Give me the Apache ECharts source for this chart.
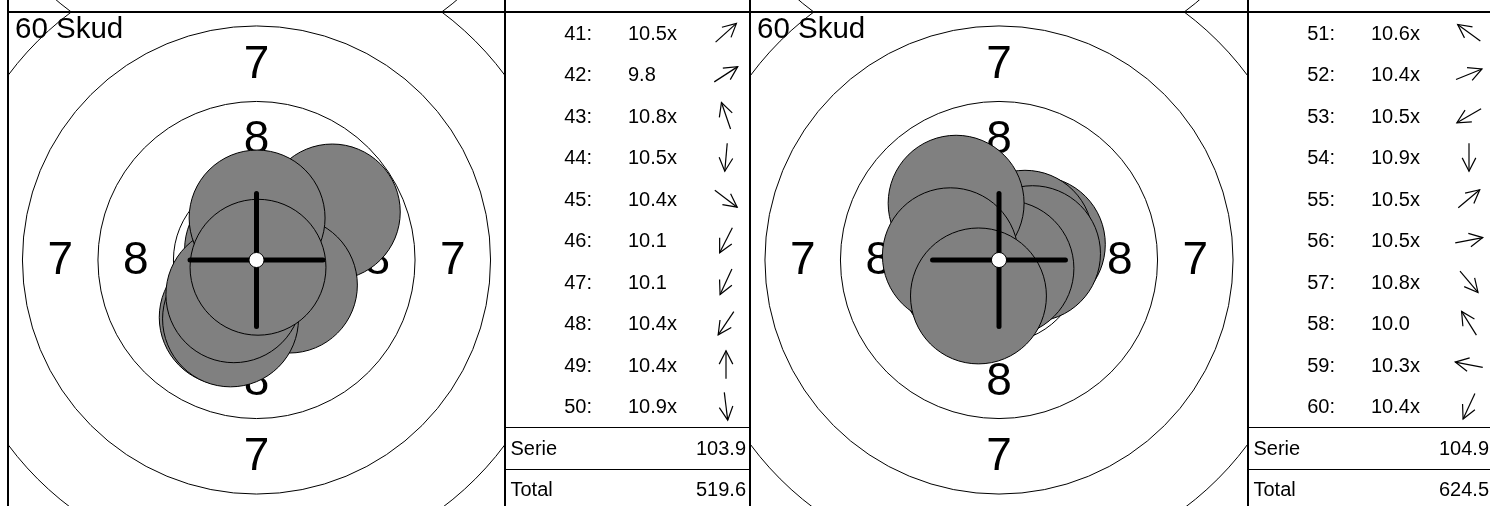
<!DOCTYPE html>
<html>
<head>
<meta charset="utf-8">
<title>60 Skud</title>
<script src="https://cdn.jsdelivr.net/npm/echarts@6/dist/echarts.min.js"></script>
<style>
html, body { margin: 0; padding: 0; background: #fff; }
#chart { width: 1490px; height: 506px; }
</style>
</head>
<body>
<div id="chart"></div>
<script>
// ring radii in mm (air rifle target), label text + the radius it sits on
var ringRadius = [10.25, 7.75, 5.25, 2.75];
var ringLabelText = ['7', '8'];
var ringLabelRadius = [6.5, 4.0];

// serie 5: shots 41-50
var shotNo1 = ['41', '42', '43', '44', '45', '46', '47', '48', '49', '50'];
var score1 = ['10.5x', '9.8', '10.8x', '10.5x', '10.4x', '10.1', '10.1', '10.4x', '10.4x', '10.9x'];
var shotX1 = [0.83, 2.51, -0.13, -0.08, 1.09, -0.97, -0.86, -0.75, 0.02, 0.05];
var shotY1 = [0.76, 1.59, 0.35, -1.12, -0.83, -1.90, -1.95, -1.15, 1.39, -0.24];
var dir1 = [42, 33, 109, -95, -37, -117, -115, -124, 90, -83];
var serie1 = '103.9';
var total1 = '519.6';

// serie 6: shots 51-60
var shotNo2 = ['51', '52', '53', '54', '55', '56', '57', '58', '59', '60'];
var score2 = ['10.6x', '10.4x', '10.5x', '10.9x', '10.5x', '10.5x', '10.8x', '10.0', '10.3x', '10.4x'];
var shotX2 = [-0.70, 1.27, -0.98, 0.00, 0.86, 1.11, 0.23, -1.42, -1.61, -0.68];
var shotY2 = [0.53, 0.52, -0.56, -0.20, 0.72, 0.21, -0.28, 1.88, 0.14, -1.19];
var dir2 = [144, 22, -150, -90, 40, 11, -50, 122, 169, -115];
var serie2 = '104.9';
var total2 = '624.5';

var titleText = '60 Skud';
var summaryLabels = ['Serie', 'Total'];

// layout
var SCALE = 30.2;        // px per mm
var PELLET_R = 2.25;     // mm
var TEN_DOT = 0.25;      // mm
var CROSS_ARM = 2.2;     // mm
var TOP = 12, TARGET_H = 496, ROW_H = 41.5;
var FONT = '"Liberation Sans", Arial, sans-serif';

var panels = [
	{tLeft: 8, tWidth: 497, bLeft: 505, bWidth: 245,
	 no: shotNo1, score: score1, x: shotX1, y: shotY1, dir: dir1, serie: serie1, total: total1},
	{tLeft: 750, tWidth: 498, bLeft: 1248, bWidth: 245,
	 no: shotNo2, score: score2, x: shotX2, y: shotY2, dir: dir2, serie: serie2, total: total2}
];

var chart = echarts.init(document.getElementById('chart'), null, {renderer: 'canvas'});

var grids = [], xAxes = [], yAxes = [], series = [], titles = [];

function gridOf(left, top, width, height){
	return {left: left, top: top, width: width, height: height, show: true,
		borderColor: '#000', borderWidth: 2, backgroundColor: 'transparent',
		containLabel: false, outerBoundsMode: 'none'};
}

function targetAxes(width, height){
	var hx = width / 2 / SCALE, hy = height / 2 / SCALE;
	xAxes.push({type: 'value', gridIndex: grids.length - 1, min: -hx, max: hx, show: false});
	yAxes.push({type: 'value', gridIndex: grids.length - 1, min: -hy, max: hy, show: false});
}

function tableAxes(){
	var rows = [];
	for (var i = 0; i < 12; i++) rows.push(String(i));
	xAxes.push({type: 'value', gridIndex: grids.length - 1, min: 0, max: 1, show: false});
	yAxes.push({type: 'category', gridIndex: grids.length - 1, data: rows, inverse: true, show: false});
}

function ringSeries(idx){
	series.push({
		type: 'custom', xAxisIndex: idx, yAxisIndex: idx, clip: true, silent: true, z: 1,
		data: ringRadius.map(function(r){ return [0, 0, r]; }),
		renderItem: function(params, api){
			var c = api.coord([api.value(0), api.value(1)]);
			var r = api.size([api.value(2), 0])[0];
			return {type: 'circle', shape: {cx: c[0], cy: c[1], r: r},
				style: {fill: 'none', stroke: '#000', lineWidth: 1}};
		}
	});
}

function labelSeries(idx){
	var data = [];
	ringLabelRadius.forEach(function(r, k){
		data.push([0, r, k], [0, -r, k], [-r, 0, k], [r, 0, k]);
	});
	series.push({
		type: 'custom', xAxisIndex: idx, yAxisIndex: idx, clip: true, silent: true, z: 2,
		data: data,
		renderItem: function(params, api){
			var c = api.coord([api.value(0), api.value(1)]);
			return {type: 'text', x: c[0], y: c[1] + 1.5,
				style: {text: ringLabelText[api.value(2)], fill: '#000', font: '46px ' + FONT,
					align: 'center', verticalAlign: 'middle'}};
		}
	});
}

function shotSeries(idx, p){
	series.push({
		type: 'custom', xAxisIndex: idx, yAxisIndex: idx, clip: true, silent: true, z: 3,
		data: p.x.map(function(x, i){ return [x, p.y[i]]; }),
		renderItem: function(params, api){
			var c = api.coord([api.value(0), api.value(1)]);
			var r = api.size([PELLET_R, 0])[0];
			return {type: 'circle', shape: {cx: c[0], cy: c[1], r: r},
				style: {fill: '#808080', stroke: '#000', lineWidth: 1}};
		}
	});
}

function crossSeries(idx){
	series.push({
		type: 'custom', xAxisIndex: idx, yAxisIndex: idx, clip: true, silent: true, z: 4,
		data: [[0, 0]],
		renderItem: function(params, api){
			var l = api.coord([-CROSS_ARM, 0]), r = api.coord([CROSS_ARM, 0]);
			var t = api.coord([0, CROSS_ARM]), b = api.coord([0, -CROSS_ARM]);
			var c = api.coord([0, 0]);
			var st = {stroke: '#000', lineWidth: 5, lineCap: 'round'};
			return {type: 'group', children: [
				{type: 'line', shape: {x1: l[0], y1: l[1], x2: r[0], y2: r[1]}, style: st},
				{type: 'line', shape: {x1: t[0], y1: t[1], x2: b[0], y2: b[1]}, style: st},
				{type: 'circle', shape: {cx: c[0], cy: c[1], r: api.size([TEN_DOT, 0])[0]},
					style: {fill: '#fff', stroke: '#000', lineWidth: 1}}
			]};
		}
	});
}

function arrow(cx, cy, deg){
	var L = 28, H = 15, spread = 27 * Math.PI / 180;
	var a = deg * Math.PI / 180;
	var ux = Math.cos(a), uy = -Math.sin(a);
	var tip = [cx + ux * L / 2, cy + uy * L / 2];
	var tail = [cx - ux * L / 2, cy - uy * L / 2];
	function barb(s){
		var bx = ux * Math.cos(s) - uy * Math.sin(s);
		var by = ux * Math.sin(s) + uy * Math.cos(s);
		return [tip[0] - bx * H, tip[1] - by * H];
	}
	var st = {stroke: '#000', lineWidth: 1.2, fill: 'none'};
	return {type: 'group', children: [
		{type: 'line', shape: {x1: tail[0], y1: tail[1], x2: tip[0], y2: tip[1]}, style: st},
		{type: 'polyline', shape: {points: [barb(spread), tip, barb(-spread)]}, style: st}
	]};
}

function tableSeries(idx, p){
	var data = [];
	for (var i = 0; i < 12; i++) data.push([0.5, i]);
	series.push({
		type: 'custom', xAxisIndex: idx, yAxisIndex: idx, silent: true, z: 5,
		data: data,
		renderItem: function(params, api){
			var cs = params.coordSys;
			var row = api.value(1);
			var y = api.coord([0.5, row])[1];
			var ty = y + 1.5;
			var band = api.size([0, 1])[1];
			var font = '20px ' + FONT;
			if (row < 10) {
				return {type: 'group', children: [
					{type: 'text', x: cs.x + 87, y: ty, style: {text: p.no[row] + ':', font: font, fill: '#000', align: 'right', verticalAlign: 'middle'}},
					{type: 'text', x: cs.x + 123, y: ty, style: {text: p.score[row], font: font, fill: '#000', align: 'left', verticalAlign: 'middle'}},
					arrow(cs.x + 221, y, p.dir[row])
				]};
			}
			var k = row - 10;
			var top = Math.round(y - band / 2) + 0.5;
			return {type: 'group', children: [
				{type: 'line', shape: {x1: cs.x, y1: top, x2: cs.x + cs.width, y2: top}, style: {stroke: '#000', lineWidth: 1}},
				{type: 'text', x: cs.x + 5.5, y: ty, style: {text: summaryLabels[k], font: font, fill: '#000', align: 'left', verticalAlign: 'middle'}},
				{type: 'text', x: cs.x + cs.width - 4, y: ty, style: {text: k === 0 ? p.serie : p.total, font: font, fill: '#000', align: 'right', verticalAlign: 'middle'}}
			]};
		}
	});
}

panels.forEach(function(p){
	// target of this serie
	grids.push(gridOf(p.tLeft, TOP, p.tWidth, TARGET_H));
	targetAxes(p.tWidth, TARGET_H);
	var ti = grids.length - 1;
	ringSeries(ti);
	labelSeries(ti);
	shotSeries(ti, p);
	crossSeries(ti);
	titles.push({text: titleText, left: p.tLeft + 7, top: TOP + 3, padding: 0,
		textStyle: {fontSize: 29.5, fontWeight: 'normal', color: '#000', fontFamily: FONT}});

	// shot table
	grids.push(gridOf(p.bLeft, TOP, p.bWidth, ROW_H * 12));
	tableAxes();
	tableSeries(grids.length - 1, p);

	// bottom edge of the previous row of panels, above the top line
	grids.push(gridOf(p.tLeft, TOP - TARGET_H, p.tWidth, TARGET_H));
	targetAxes(p.tWidth, TARGET_H);
	ringSeries(grids.length - 1);
	grids.push(gridOf(p.bLeft, TOP - TARGET_H, p.bWidth, TARGET_H));
	tableAxes();
});

chart.setOption({
	animation: false,
	backgroundColor: '#fff',
	title: titles,
	grid: grids,
	xAxis: xAxes,
	yAxis: yAxes,
	series: series
});
</script>
</body>
</html>
